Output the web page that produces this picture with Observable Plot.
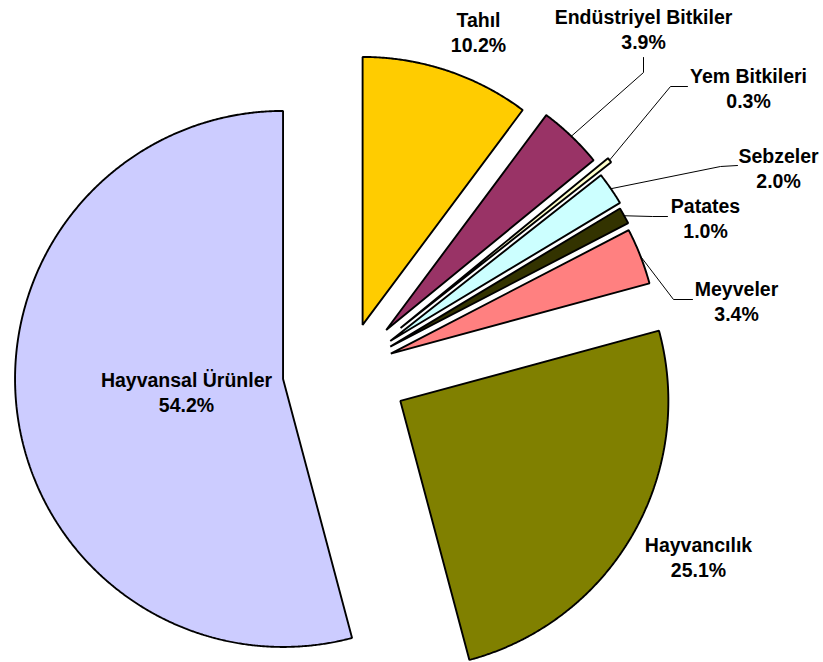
<!DOCTYPE html>
<html>
<head>
<meta charset="utf-8">
<script src="https://cdn.jsdelivr.net/npm/d3@7"></script>
<script src="https://cdn.jsdelivr.net/npm/@observablehq/plot@0.6"></script>
<style>
  html, body { margin: 0; padding: 0; background: #ffffff; }
  #chart { width: 823px; height: 662px; }
</style>
</head>
<body>
<div id="chart"></div>
<script>
// ---- data ----
const categories = ["Tahıl", "Endüstriyel Bitkiler", "Yem Bitkileri", "Sebzeler", "Patates", "Meyveler", "Hayvancılık", "Hayvansal Ürünler"];
const shares = [10.2, 3.9, 0.3, 2.0, 1.0, 3.4, 25.1, 54.2];
const shareLabels = ["10.2%", "3.9%", "0.3%", "2.0%", "1.0%", "3.4%", "25.1%", "54.2%"];

// ---- style / layout ----
const colors = ["#FFCC00", "#993366", "#FFFFCC", "#CCFFFF", "#333300", "#FF8080", "#808000", "#CCCCFF"];
const W = 823, H = 662;
const center = [347, 370];   // pie centre in chart space
const radius = 268;
const explode = [48, 56, 68, 52, 49, 46.5, 61, 65]; // per-slice explosion distance
const labelPos = [[478, 31], [643, 28], [748, 87], [778, 167], [705, 217], [736, 300], [698, 556], [186, 391]];
// leader line elbows: [elbow, end near label] (null = no leader)
const leaders = [null, [[643, 72], [643, 57]], [[670, 86], [687, 86]], [[720, 166], [737, 165]], [[652, 216], [667, 216]], [[673, 299], [692, 299]], null, null];

// ---- geometry from data ----
const pie = d3.pie().sort(null).value(d => d.value);
const arcs = pie(categories.map((c, i) => ({name: c, value: shares[i], i})));

const slices = arcs.map((a, i) => {
  const mid = (a.startAngle + a.endAngle) / 2;
  const vx = center[0] + explode[i] * Math.sin(mid);
  const vy = center[1] - explode[i] * Math.cos(mid);
  const pts = [{x: vx, y: vy}];
  const n = Math.max(2, Math.ceil((a.endAngle - a.startAngle) / 0.005));
  for (let k = 0; k <= n; k++) {
    const t = a.startAngle + (a.endAngle - a.startAngle) * k / n;
    pts.push({x: vx + radius * Math.sin(t), y: vy - radius * Math.cos(t)});
  }
  const edge = {x: vx + radius * Math.sin(mid), y: vy - radius * Math.cos(mid)};
  return {name: a.data.name, i, pts, edge};
});

const leaderLines = [];
slices.forEach((s, i) => {
  if (!leaders[i]) return;
  const path = [s.edge, {x: leaders[i][0][0], y: leaders[i][0][1]}, {x: leaders[i][1][0], y: leaders[i][1][1]}];
  path.forEach(p => leaderLines.push({...p, name: s.name}));
});

const labels = categories.map((c, i) => ({x: labelPos[i][0], y: labelPos[i][1], text: c + "\n" + shareLabels[i]}));

const marks = [];
slices.forEach((s, i) => {
  marks.push(Plot.line(s.pts, {x: "x", y: "y", curve: "linear-closed", fill: colors[i], stroke: "#000", strokeWidth: 1.9, strokeLinejoin: "miter"}));
});
marks.push(Plot.line(leaderLines, {x: "x", y: "y", z: "name", stroke: "#000", strokeWidth: 1}));
marks.push(Plot.text(labels, {x: "x", y: "y", text: "text", fontSize: 19.5, fontWeight: "bold", fontFamily: "Liberation Sans, Arial, sans-serif", fill: "#000", lineHeight: 1.28, textAnchor: "middle"}));

const chart = Plot.plot({
  width: W,
  height: H,
  margin: 0,
  x: {domain: [0, W], range: [0, W], axis: null},
  y: {domain: [0, H], range: [0, H], axis: null},
  style: {background: "#fff"},
  marks
});
document.getElementById("chart").appendChild(chart);
</script>
</body>
</html>
